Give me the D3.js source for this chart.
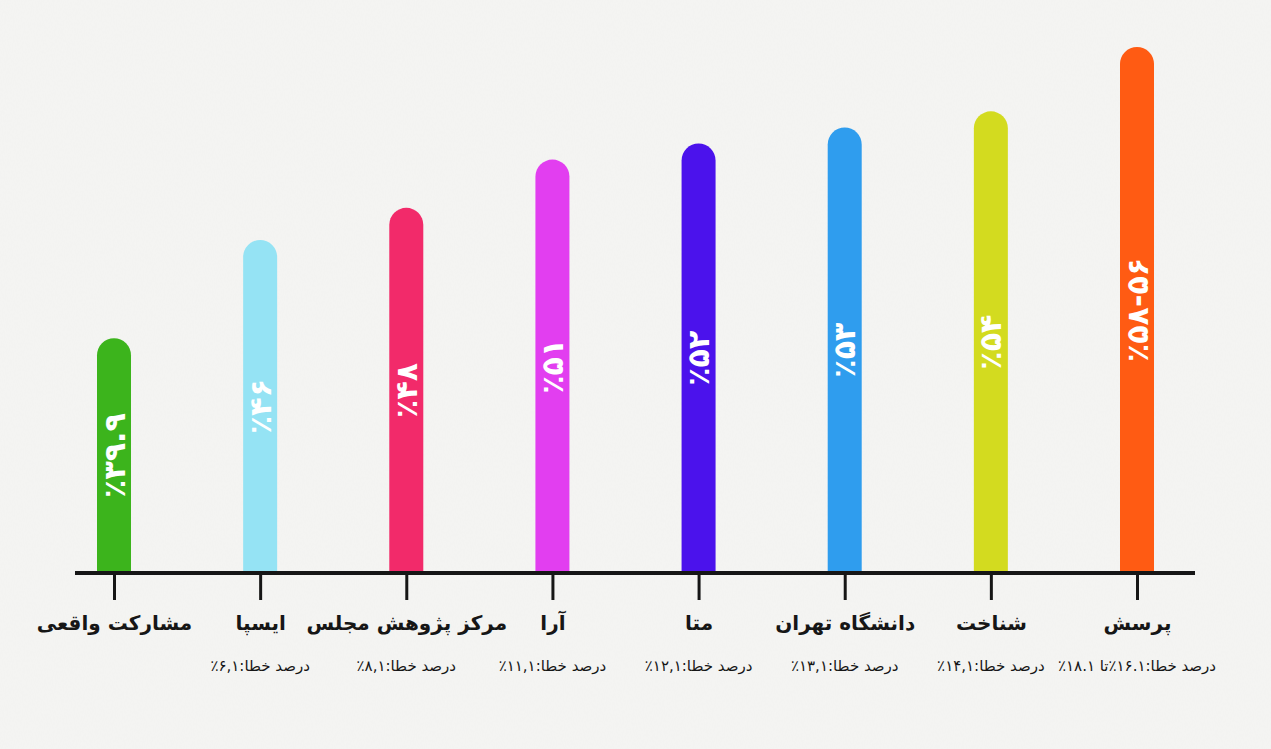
<!DOCTYPE html>
<html>
<head>
<meta charset="utf-8">
<script src="https://cdn.jsdelivr.net/npm/d3@7"></script>
<style>
  body { margin: 0; background: #f5f5f3; }
  svg { display: block; }
</style>
</head>
<body>
<div id="chart"></div>
<script>
// poll sources, left to right
var sources = ["مشارکت واقعی", "ایسپا", "مرکز پژوهش مجلس", "آرا", "متا", "دانشگاه تهران", "شناخت", "پرسش"];
// predicted turnout (the last one is the 56-58 range, drawn at its top)
var values = [39.9, 46, 48, 51, 52, 53, 54, 58];
var valueLabels = ["٪۳۹.۹", "٪۴۶", "٪۴۸", "٪۵۱", "٪۵۲", "٪۵۳", "٪۵۴", "٪۵۸-۵۶"];
var errorLabels = ["", "درصد خطا:۶,۱٪", "درصد خطا:۸,۱٪", "درصد خطا:۱۱,۱٪", "درصد خطا:۱۲,۱٪",
                   "درصد خطا:۱۳,۱٪", "درصد خطا:۱۴,۱٪", "درصد خطا:۱۶.۱٪تا ۱۸.۱٪"];
var colors = ["#3cb41c", "#95e3f4", "#f22a6a", "#e23ef0", "#4b12ec", "#2f9dee", "#d3db1f", "#ff5b13"];

var W = 1271, H = 749;
var baseY = 573, barW = 34;

var svg = d3.select("#chart")
  .append("svg")
    .attr("width", W)
    .attr("height", H);

// faint paper texture
var defs = svg.append("defs");
var f = defs.append("filter").attr("id", "paper");
f.append("feTurbulence").attr("type", "fractalNoise").attr("baseFrequency", "0.9 0.35").attr("numOctaves", 2).attr("seed", 3);
f.append("feColorMatrix").attr("values", "0 0 0 0 0.5  0 0 0 0 0.5  0 0 0 0 0.5  0 0 0 0.05 0");
svg.append("rect").attr("width", W).attr("height", H).attr("fill", "#f5f5f3");
svg.append("rect").attr("width", W).attr("height", H).attr("filter", "url(#paper)");

var x = d3.scalePoint()
  .domain(sources)
  .range([114, 1137]);

var y = d3.scaleLinear()
  .domain([25.3, 58])
  .range([baseY, 47]);

// bars with round tops
function barPath(d, i) {
  var cx = x(sources[i]), r = barW / 2, top = y(d);
  return "M" + (cx - r) + "," + baseY +
    "V" + (top + r) +
    "A" + r + "," + r + " 0 0 1 " + (cx + r) + "," + (top + r) +
    "V" + baseY + "Z";
}
svg.append("g")
  .selectAll("path")
  .data(values)
  .enter()
  .append("path")
    .attr("d", barPath)
    .attr("fill", function(d, i) { return colors[i]; });

// value labels, rotated inside the bars
svg.append("g")
  .selectAll("text")
  .data(values)
  .enter()
  .append("text")
    .attr("transform", function(d, i) {
      return "translate(" + x(sources[i]) + "," + ((y(d) + baseY) / 2) + ") rotate(-90)";
    })
    .attr("text-anchor", "middle")
    .attr("dominant-baseline", "central")
    .attr("direction", "ltr")
    .style("font-family", "'DejaVu Sans', sans-serif")
    .style("font-weight", "bold")
    .style("font-size", "30px")
    .attr("fill", "#ffffff")
    .text(function(d, i) { return valueLabels[i]; });

// axis with ticks and source names
var axis = svg.append("g")
  .attr("transform", "translate(0," + baseY + ")")
  .call(d3.axisBottom(x).tickSize(27).tickSizeOuter(0).tickPadding(16));
axis.select(".domain").remove();
axis.selectAll(".tick line")
  .attr("stroke", "#161616")
  .attr("stroke-width", 3);
axis.selectAll(".tick text")
  .attr("direction", "rtl")
  .attr("fill", "#161616")
  .style("font-family", "'DejaVu Sans', sans-serif")
  .style("font-weight", "bold")
  .style("font-size", "20px");

svg.append("line")
  .attr("x1", 75).attr("x2", 1195)
  .attr("y1", baseY).attr("y2", baseY)
  .attr("stroke", "#161616")
  .attr("stroke-width", 4);

// margin of error under each name
svg.append("g")
  .selectAll("text")
  .data(errorLabels)
  .enter()
  .append("text")
    .attr("x", function(d, i) { return x(sources[i]); })
    .attr("y", 671)
    .attr("text-anchor", "middle")
    .attr("direction", "rtl")
    .attr("fill", "#161616")
    .style("font-family", "'DejaVu Sans', sans-serif")
    .style("font-size", "15px")
    .text(function(d) { return d; });
</script>
</body>
</html>
